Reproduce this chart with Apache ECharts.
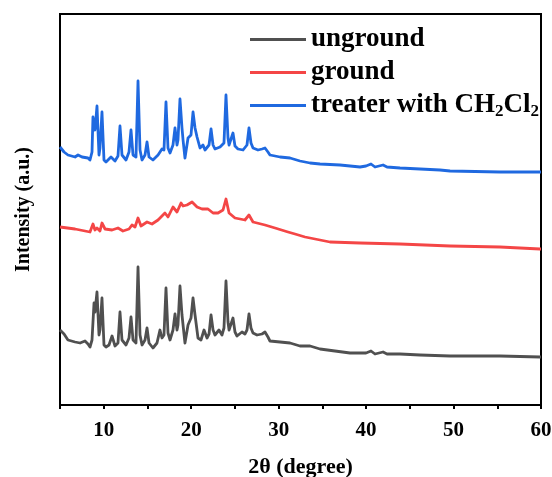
<!DOCTYPE html>
<html>
<head>
<meta charset="utf-8">
<script src="https://cdn.jsdelivr.net/npm/echarts@6/dist/echarts.min.js"></script>
<style>html,body{margin:0;padding:0;background:#fff;}#c{width:552px;height:477px;}</style>
</head>
<body>
<div id="c"></div>
<script>
// 2θ (degree), intensity (a.u., offset as drawn)
var unground = [
[5.0,75],[5.46,71],[5.91,65],[6.72,63],[7.29,62],[7.86,64],[8.20,61],[8.43,58],[8.66,65],[8.89,102],[9.0,93],[9.23,113],[9.46,70],[9.57,75],[9.80,107],[10.03,60],[10.26,58],[10.6,60],[10.95,69],[11.29,59],[11.63,62],[11.86,93],[12.09,65],[12.55,60],[12.89,67],[13.12,88],[13.35,65],[13.69,62],[13.92,138],[14.15,70],[14.38,60],[14.72,65],[14.95,77],[15.18,62],[15.63,57],[16.09,62],[16.43,75],[16.66,67],[16.89,70],[17.12,117],[17.35,72],[17.58,65],[17.92,75],[18.15,91],[18.38,75],[18.49,80],[18.72,119],[18.95,90],[19.07,80],[19.29,62],[19.64,80],[19.98,87],[20.21,107],[20.44,90],[20.78,67],[21.12,65],[21.47,75],[21.81,67],[22.04,71],[22.27,90],[22.50,75],[22.72,70],[23.18,75],[23.52,70],[23.75,77],[23.98,124],[24.21,83],[24.33,75],[24.55,77],[24.78,87],[25.01,73],[25.24,69],[25.81,73],[26.15,71],[26.38,75],[26.61,91],[26.84,77],[27.07,72],[27.53,70],[28.10,71],[28.44,73],[28.78,68],[29.01,64],[30.16,63],[31.30,62],[32.44,59],[33.59,59],[34.73,56],[36.44,54],[38.16,52],[39.99,52],[40.56,54],[41.02,51],[41.94,53],[42.39,51],[43.88,51],[46.17,50],[49.60,49],[55.31,49],[59.89,48],[60,48]
];
var ground = [
[5.0,178],[6.72,176],[8.43,173],[8.77,181],[9.0,175],[9.23,177],[9.57,174],[9.80,182],[10.15,176],[10.95,175],[11.63,177],[12.20,174],[12.89,176],[13.23,180],[13.58,178],[13.92,187],[14.26,179],[14.95,183],[15.52,181],[16.21,185],[17.0,192],[17.35,188],[17.92,198],[18.38,193],[18.84,202],[19.07,199],[19.52,200],[20.10,203],[20.67,198],[21.24,196],[21.92,196],[22.50,192],[23.07,192],[23.64,195],[23.98,206],[24.33,192],[25.01,187],[26.15,185],[26.61,190],[27.07,183],[28.44,180],[29.59,177],[31.07,173],[31.87,171],[33.02,168],[34.73,165],[35.87,163],[39.31,162],[43.88,161],[49.60,159],[55.31,158],[59.89,156],[60,156]
];
var treated = [
[5.0,258],[5.46,253],[5.91,250],[6.72,248],[7.06,250],[7.52,248],[8.20,247],[8.43,245],[8.66,253],[8.77,288],[9.0,275],[9.23,299],[9.46,250],[9.57,257],[9.80,293],[10.03,245],[10.26,243],[10.83,248],[11.29,244],[11.63,249],[11.86,279],[12.09,250],[12.55,245],[12.89,253],[13.12,275],[13.35,250],[13.69,248],[13.92,324],[14.15,255],[14.38,245],[14.72,250],[14.95,263],[15.18,248],[15.63,245],[16.21,250],[16.66,256],[16.89,255],[17.12,303],[17.35,257],[17.58,252],[17.92,260],[18.15,277],[18.38,260],[18.49,265],[18.72,306],[18.95,277],[19.07,265],[19.29,247],[19.64,267],[19.98,270],[20.21,293],[20.44,277],[20.67,268],[21.01,257],[21.35,260],[21.58,255],[22.04,260],[22.27,276],[22.50,260],[22.72,256],[23.30,258],[23.75,262],[23.98,310],[24.21,267],[24.33,260],[24.55,262],[24.78,272],[25.01,259],[25.35,256],[25.93,255],[26.38,260],[26.61,277],[26.84,262],[27.07,257],[27.64,255],[28.10,256],[28.44,257],[28.78,253],[29.01,250],[30.16,248],[31.30,247],[32.44,244],[33.59,242],[34.73,241],[37.02,240],[39.31,238],[39.99,239],[40.56,241],[41.02,238],[41.94,240],[42.39,238],[43.88,237],[46.17,236],[48.45,235],[49.60,234],[55.31,233],[59.89,233],[60,233]
];
var seriesNames = ['unground', 'ground', 'treater with CH2Cl2'];
var xTicks = [10, 20, 30, 40, 50, 60];

var chart = echarts.init(document.getElementById('c'), null, {renderer: 'canvas'});
var serif = '"Liberation Serif", "Times New Roman", serif';
var colors = ['#505050', '#f44646', '#1f69e0'];
function mk(name, data, color) {
  return {name: name, type: 'line', data: data, showSymbol: false, symbol: 'none',
    lineStyle: {color: color, width: 2.8, join: 'round'}, itemStyle: {color: color}, animation: false};
}
chart.setOption({
  animation: false,
  backgroundColor: '#ffffff',
  grid: {left: 60, right: 11, top: 14, bottom: 72, containLabel: false, outerBoundsMode: 'none',
    show: true, borderColor: '#000', borderWidth: 2, backgroundColor: 'transparent'},
  legend: {
    orient: 'vertical', left: 250, top: 26, itemGap: 6, padding: 0,
    icon: 'rect', itemWidth: 56, itemHeight: 3,
    data: seriesNames,
    textStyle: {fontFamily: serif, fontWeight: 'bold', fontSize: 27, color: '#000',
      rich: {
        n: {fontFamily: serif, fontWeight: 'bold', fontSize: 27, color: '#000'},
        s: {fontFamily: serif, fontWeight: 'bold', fontSize: 17, color: '#000', padding: [12, 0, 0, 0]}
      }},
    formatter: function (n) {
      if (n.indexOf('CH2Cl2') >= 0) return '{n|treater with CH}{s|2}{n|Cl}{s|2}';
      return '{n|' + n + '}';
    }
  },
  xAxis: {
    type: 'value', min: 5, max: 60, interval: 5,
    name: '2θ (degree)', nameLocation: 'middle', nameGap: 51,
    nameTextStyle: {fontFamily: serif, fontWeight: 'bold', fontSize: 22, color: '#000'},
    axisLine: {lineStyle: {color: '#000', width: 2}},
    axisTick: {show: true, length: 4, lineStyle: {color: '#000', width: 2}},
    axisLabel: {margin: 15, fontFamily: serif, fontWeight: 'bold', fontSize: 21, color: '#000',
      formatter: function (v) { return xTicks.indexOf(v) >= 0 ? String(v) : ''; }},
    splitLine: {show: false}
  },
  yAxis: {
    type: 'value', min: 0, max: 391,
    name: 'Intensity (a.u.)', nameLocation: 'middle', nameGap: 26,
    nameTextStyle: {fontFamily: serif, fontWeight: 'bold', fontSize: 20, color: '#000'},
    axisLine: {show: true, lineStyle: {color: '#000', width: 2}},
    axisTick: {show: false}, axisLabel: {show: false}, splitLine: {show: false}
  },
  series: [mk(seriesNames[0], unground, colors[0]), mk(seriesNames[1], ground, colors[1]), mk(seriesNames[2], treated, colors[2])]
});
</script>
</body>
</html>
